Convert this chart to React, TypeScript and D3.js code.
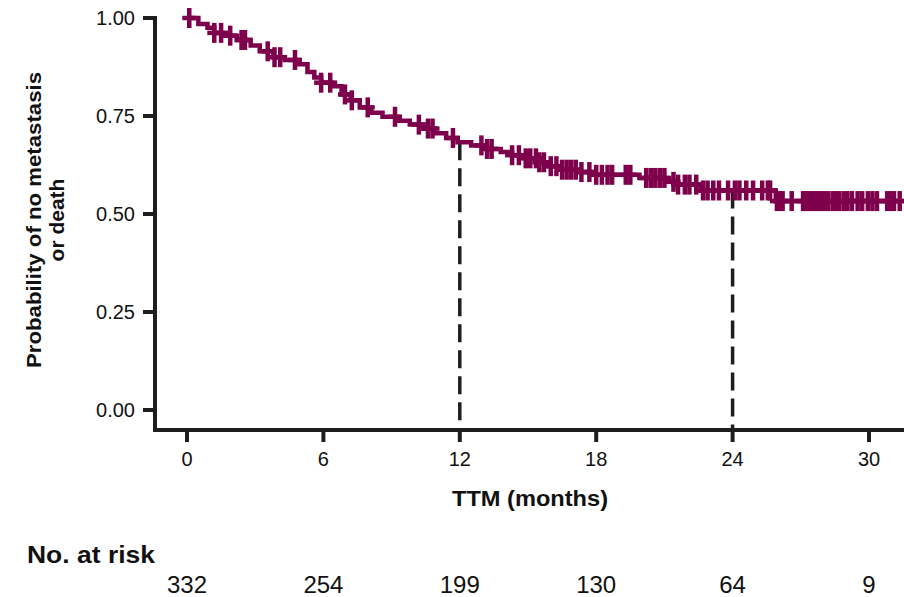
import * as d3 from "d3";

// Kaplan-Meier steps: time (months) and survival after the drop
const stepTimes = [0, 0.5, 0.9, 1.2, 1.6, 2.2, 2.8, 3.2, 3.8, 4.3, 4.9, 5.3, 5.6, 5.9, 6.4, 6.8, 7.2, 7.6, 8.1, 8.6, 9.3, 9.8, 10.4, 10.9, 11.4, 11.9, 12.5, 13.2, 13.8, 14.3, 14.9, 15.4, 15.9, 16.4, 17.2, 17.8, 19.9, 21.1, 21.6, 22.6, 25.9];
const stepSurv = [1.0, 0.985, 0.975, 0.962, 0.955, 0.944, 0.93, 0.915, 0.9, 0.893, 0.882, 0.862, 0.848, 0.835, 0.826, 0.805, 0.79, 0.772, 0.758, 0.748, 0.738, 0.728, 0.718, 0.706, 0.694, 0.683, 0.675, 0.666, 0.658, 0.65, 0.642, 0.632, 0.622, 0.613, 0.607, 0.6, 0.592, 0.582, 0.575, 0.56, 0.533];
const lastTime = 31.6;

// censored observations (months)
const censorTimes = [0.1, 1.2, 1.5, 1.9, 2.4, 2.55, 3.55, 3.85, 4.1, 4.75, 5.9, 6.3, 6.95, 7.25, 7.95, 9.15, 10.2, 10.6, 10.8, 11.7, 12.95, 13.2, 13.4, 14.3, 14.6, 14.9, 15.1, 15.35, 15.5, 15.7, 16.0, 16.25, 16.5, 16.7, 16.9, 17.1, 17.35, 17.7, 18.0, 18.25, 18.5, 18.7, 19.3, 19.5, 20.2, 20.4, 20.6, 20.8, 21.0, 21.4, 21.6, 21.9, 22.1, 22.4, 22.7, 22.9, 23.15, 23.4, 23.8, 24.1, 24.3, 24.6, 24.9, 25.3, 25.55, 25.65, 25.95, 26.1, 26.2, 26.6, 27.1, 27.2, 27.35, 27.5, 27.6, 27.75, 27.9, 28.05, 28.2, 28.4, 28.55, 28.7, 28.9, 29.05, 29.25, 29.5, 29.7, 29.95, 30.15, 30.35, 30.8, 30.95, 31.1, 31.35];

const xTicks = [0, 6, 12, 18, 24, 30];
const yTicks = [0, 0.25, 0.5, 0.75, 1];
const atRisk = [332, 254, 199, 130, 64, 9];
const markTimes = [12, 24];

const W = 904;
const H = 597;
const color = "#7e004c";
const ink = "#1e1e1e";
const font = "'Liberation Sans', Arial, sans-serif";

function survAt(t: number) {
  let s = stepSurv[0];
  for (let i = 0; i < stepTimes.length; i++) {
    if (stepTimes[i] <= t) s = stepSurv[i];
  }
  return s;
}

export default function App() {
  const x = d3.scaleLinear().domain([0, 30]).range([187, 869]);
  const y = d3.scaleLinear().domain([0, 1]).range([410, 18]);
  const axisY = 430;
  const axisX = 155;

  const pts: [number, number][] = stepTimes.map((t, i) => [t, stepSurv[i]]);
  pts.push([lastTime, stepSurv[stepSurv.length - 1]]);
  const line = d3
    .line<[number, number]>()
    .x((d) => x(d[0]))
    .y((d) => y(d[1]))
    .curve(d3.curveStepAfter);

  return (
    <svg
      width={W}
      height={H}
      style={{ position: "absolute", left: 0, top: 0, background: "#fff" }}
      fontFamily={font}
    >
      {/* axes */}
      <line x1={axisX} x2={axisX} y1={y(1) - 2} y2={axisY + 2} stroke={ink} strokeWidth={4} />
      <line x1={axisX - 2} x2={W + 5} y1={axisY} y2={axisY} stroke={ink} strokeWidth={4} />
      {yTicks.map((v) => (
        <g key={v}>
          <line x1={axisX - 12} x2={axisX} y1={y(v)} y2={y(v)} stroke={ink} strokeWidth={4} />
          <text x={135} y={y(v)} textAnchor="end" dominantBaseline="central" fontSize={20} fill="#111">
            {v.toFixed(2)}
          </text>
        </g>
      ))}
      {xTicks.map((v) => (
        <g key={v}>
          <line x1={x(v)} x2={x(v)} y1={axisY} y2={axisY + 12} stroke={ink} strokeWidth={4} />
          <text x={x(v)} y={466} textAnchor="middle" fontSize={20} fill="#111">
            {v}
          </text>
        </g>
      ))}
      <text x={530} y={506} textAnchor="middle" fontSize={22} fontWeight="bold" fill="#111" textLength={156} lengthAdjust="spacingAndGlyphs">
        TTM (months)
      </text>
      <g transform="translate(0,220) rotate(-90)" fontSize={21} fontWeight="bold" fill="#111">
        <text x={0} y={41} textAnchor="middle" textLength={296} lengthAdjust="spacingAndGlyphs">
          Probability of no metastasis
        </text>
        <text x={0} y={64} textAnchor="middle">
          or death
        </text>
      </g>

      {/* landmark dashed lines */}
      {markTimes.map((t) => (
        <line
          key={t}
          x1={x(t)}
          x2={x(t)}
          y1={y(survAt(t))}
          y2={axisY}
          stroke={ink}
          strokeWidth={3.5}
          strokeDasharray="18,8"
        />
      ))}

      {/* survival curve */}
      <path d={line(pts) ?? ""} fill="none" stroke={color} strokeWidth={4.5} />
      {censorTimes.map((t, i) => {
        const cx = x(t);
        const cy = y(survAt(t));
        return (
          <g key={i} stroke={color} strokeWidth={4.5}>
            <line x1={cx} x2={cx} y1={cy - 10} y2={cy + 10} />
            <line x1={cx - 7} x2={cx + 7} y1={cy} y2={cy} />
          </g>
        );
      })}

      {/* number at risk */}
      <text x={27} y={563} fontSize={24} fontWeight="bold" fill="#111" textLength={128} lengthAdjust="spacingAndGlyphs">
        No. at risk
      </text>
      {xTicks.map((v, i) => (
        <text key={v} x={x(v)} y={593} textAnchor="middle" fontSize={24} fill="#111">
          {atRisk[i]}
        </text>
      ))}
    </svg>
  );
}
